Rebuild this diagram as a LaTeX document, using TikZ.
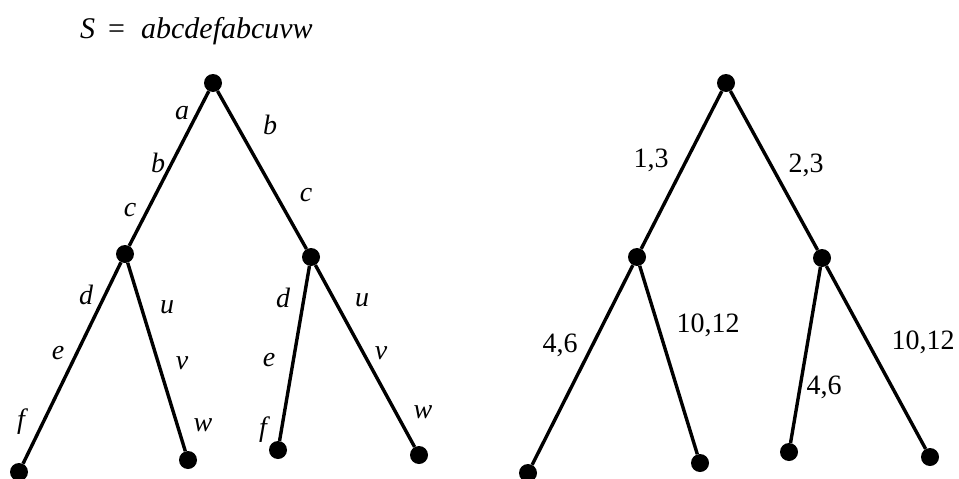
\documentclass[tikz,border=0pt]{standalone}
\usepackage{fontspec}
\setmainfont{Liberation Serif}
\begin{document}
\begin{tikzpicture}[x=1pt,y=-1pt,
  dot/.style={circle,fill=black,inner sep=0pt,minimum size=18pt},
  edge/.style={line width=3.4pt},
  lab/.style={font=\fontsize{28}{30}\selectfont\itshape,inner sep=0pt},
  num/.style={font=\fontsize{28}{30}\selectfont,inner sep=0pt}]
\useasboundingbox (0,0) rectangle (959,479);
% title
\node[anchor=base west,inner sep=0pt,font=\fontsize{30}{32}\selectfont] (title) at (80,38)
  {\itshape S\hspace{13pt}\upshape=\hspace{16pt}\itshape abcdefabcuvw};
% left tree
\node[dot] (r) at (213,83) {};
\node[dot] (n1) at (125,254) {};
\node[dot] (n2) at (311,257) {};
\node[dot] (l1) at (19,472) {};
\node[dot] (l2) at (188,460) {};
\node[dot] (l3) at (278,450) {};
\node[dot] (l4) at (419,455) {};
\draw[edge] (r) -- (n1);
\draw[edge] (r) -- (n2);
\draw[edge] (n1) -- (l1);
\draw[edge] (n1) -- (l2);
\draw[edge] (n2) -- (l3);
\draw[edge] (n2) -- (l4);
\node[lab] (ta) at (182,113) {a};
\node[lab] (tb) at (158,163) {b};
\node[lab] (tc) at (130,210) {c};
\node[lab] (tb2) at (270,125) {b};
\node[lab] (tc2) at (306,195) {c};
\node[lab] (td) at (86,295) {d};
\node[lab] (te) at (58,353) {e};
\node[lab] (tf) at (21,422) {f};
\node[lab] (tu) at (167,307) {u};
\node[lab] (tv) at (182,363) {v};
\node[lab] (tw) at (203,425) {w};
\node[lab] (td2) at (283,298) {d};
\node[lab] (te2) at (269,360) {e};
\node[lab] (tf2) at (263,430) {f};
\node[lab] (tu2) at (362,300) {u};
\node[lab] (tv2) at (381,353) {v};
\node[lab] (tw2) at (423,412) {w};
% right tree
\node[dot] (R) at (726,83) {};
\node[dot] (m1) at (637,257) {};
\node[dot] (m2) at (822,258) {};
\node[dot] (k1) at (528,473) {};
\node[dot] (k2) at (700,463) {};
\node[dot] (k3) at (789,452) {};
\node[dot] (k4) at (930,457) {};
\draw[edge] (R) -- (m1);
\draw[edge] (R) -- (m2);
\draw[edge] (m1) -- (k1);
\draw[edge] (m1) -- (k2);
\draw[edge] (m2) -- (k3);
\draw[edge] (m2) -- (k4);
\node[num] (s13) at (651,160) {1,3};
\node[num] (s23) at (806,165) {2,3};
\node[num] (s46) at (560,345) {4,6};
\node[num] (s1012) at (708,325) {10,12};
\node[num] (s46b) at (824,387) {4,6};
\node[num] (s1012b) at (923,342) {10,12};
\end{tikzpicture}
\end{document}
